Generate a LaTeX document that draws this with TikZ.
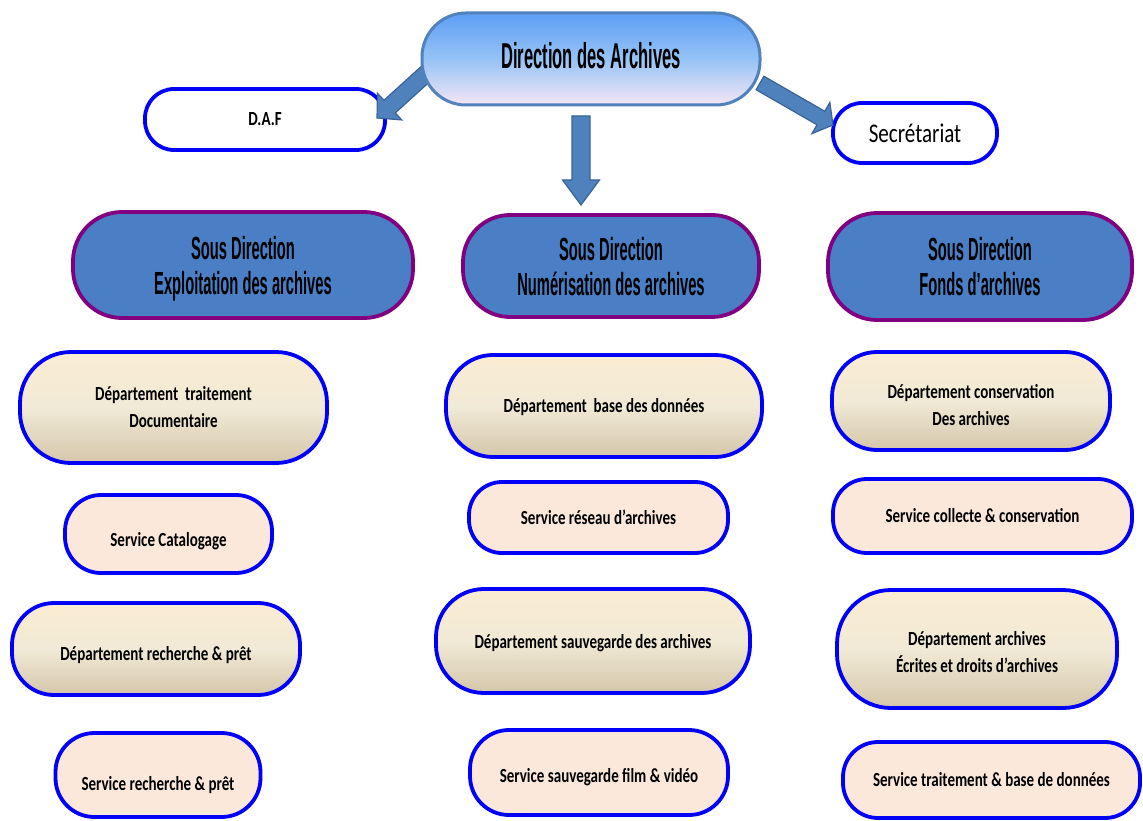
\documentclass[tikz,border=0pt]{standalone}
\usepackage{fontspec}
\usetikzlibrary{calc}
\newfontfamily\headfont[FakeStretch=0.46]{Liberation Sans}
\newfontfamily\bodyfont[FakeStretch=0.75]{Carlito}
\newfontfamily\plainfont[FakeStretch=0.78]{Carlito}

\definecolor{topedge}{RGB}{82,130,190}
\definecolor{toptop}{RGB}{92,158,245}
\definecolor{topmid}{RGB}{150,195,245}
\definecolor{topbot}{RGB}{244,230,246}
\definecolor{subfill}{RGB}{74,126,197}
\definecolor{subedge}{RGB}{128,0,128}
\definecolor{edgeblue}{RGB}{0,0,250}
\definecolor{depttop}{RGB}{251,236,211}
\definecolor{deptmid}{RGB}{241,234,214}
\definecolor{deptbot}{RGB}{212,198,170}
\definecolor{servfill}{RGB}{252,232,218}
\definecolor{arrowfill}{RGB}{79,129,189}
\definecolor{arrowedge}{RGB}{58,100,152}

\tikzset{
  orgbox/.style={draw, align=center, inner sep=0pt, line width=3.8pt},
  topbox/.style={orgbox, draw=topedge, line width=3pt, rounded corners=44pt,
    top color=toptop, bottom color=topbot, middle color=topmid,
    font=\headfont\bfseries\fontsize{36}{40}\selectfont},
  subbox/.style={orgbox, draw=subedge, fill=subfill, rounded corners=49pt,
    font=\headfont\bfseries\fontsize{32}{35}\selectfont},
  plainbox/.style={orgbox, draw=edgeblue, fill=white, rounded corners=29pt},
  deptbox/.style={orgbox, draw=edgeblue,
    top color=depttop, bottom color=deptbot, middle color=deptmid,
    font=\bodyfont\bfseries\fontsize{20}{27}\selectfont},
  servbox/.style={orgbox, draw=edgeblue, fill=servfill,
    font=\bodyfont\bfseries\fontsize{20}{27}\selectfont},
  arrowstyle/.style={fill=arrowfill, draw=arrowedge, line width=1.2pt, line join=miter}
}

% text lowered inside its box while keeping the box size
\newcommand\lowtext[2]{\raisebox{-#1}[\height][\depth]{%
  \begin{tabular}{@{}c@{}}#2\end{tabular}}}

% block arrow: start, tip, half shaft width, half head width, head length
\newcommand\blockarrow[5]{%
  \coordinate (#1base) at ($(#2)!#5!(#1)$);
  \filldraw[arrowstyle] ($(#1)!#3!90:(#2)$) -- ($(#1base)!#3!90:(#2)$)
    -- ($(#1base)!#4!90:(#2)$) -- (#2) -- ($(#1base)!#4!-90:(#2)$)
    -- ($(#1base)!#3!-90:(#2)$) -- ($(#1)!#3!-90:(#2)$) -- cycle;}

\begin{document}
\begin{tikzpicture}[x=1pt,y=-1pt]
\useasboundingbox (0,0) rectangle (1143,821);
\fill[white] (0,0) rectangle (1143,821);

% second level
\node[plainbox, minimum width=240pt, minimum height=61pt,
  font=\bodyfont\bfseries\fontsize{20}{22}\selectfont] (daf) at (265,119.5)
  {\lowtext{2pt}{D.A.F}};
\node[plainbox, minimum width=164pt, minimum height=60pt,
  font=\plainfont\fontsize{27}{30}\selectfont] (sec) at (915,133) {Secrétariat};

% sub-directions
\node[subbox, minimum width=340pt, minimum height=106pt] (sd1) at (243,265)
  {\lowtext{5pt}{Sous Direction\\Exploitation des archives}};
\node[subbox, minimum width=296pt, minimum height=102pt, rounded corners=47pt] (sd2) at (611,266)
  {\lowtext{5pt}{Sous Direction\\Numérisation des archives}};
\node[subbox, minimum width=304pt, minimum height=107pt] (sd3) at (980,266.5)
  {\lowtext{4pt}{Sous Direction\\Fonds d’archives}};

% column 1
\node[deptbox, minimum width=307pt, minimum height=111pt, rounded corners=51pt] (d11) at (173.5,407.5)
  {\lowtext{1pt}{Département\ \ traitement\\Documentaire}};
\node[servbox, minimum width=207pt, minimum height=78pt, rounded corners=36pt] (s11) at (168.5,534)
  {\lowtext{7pt}{Service Catalogage}};
\node[deptbox, minimum width=288pt, minimum height=92pt, rounded corners=42pt] (d12) at (156,649)
  {\lowtext{6pt}{Département recherche \& prêt}};
\node[servbox, minimum width=205pt, minimum height=84pt, rounded corners=39pt] (s12) at (158,775)
  {\lowtext{10pt}{Service recherche \& prêt}};

% column 2
\node[deptbox, minimum width=316pt, minimum height=102pt, rounded corners=47pt] (d21) at (604,406)
  {\lowtext{1pt}{Département\ \ base des données}};
\node[servbox, minimum width=259pt, minimum height=71pt, rounded corners=33pt] (s21) at (598.5,517.5)
  {Service réseau d’archives};
\node[deptbox, minimum width=314pt, minimum height=104pt, rounded corners=48pt] (d22) at (593,641)
  {\lowtext{2pt}{Département sauvegarde des archives}};
\node[servbox, minimum width=258pt, minimum height=85pt, rounded corners=39pt] (s22) at (599,772.5)
  {\lowtext{5pt}{Service sauvegarde film \& vidéo}};

% column 3
\node[deptbox, minimum width=278pt, minimum height=98pt, rounded corners=45pt] (d31) at (971,401)
  {\lowtext{6pt}{Département conservation\\Des archives}};
\node[servbox, minimum width=299pt, minimum height=74pt, rounded corners=34pt] (s31) at (982.5,516)
  {\lowtext{1pt}{Service collecte \& conservation}};
\node[deptbox, minimum width=280pt, minimum height=118pt, rounded corners=54pt] (d32) at (977,649)
  {\lowtext{5pt}{Département archives\\Écrites et droits d’archives}};
\node[servbox, minimum width=297pt, minimum height=76pt, rounded corners=35pt] (s32) at (991.5,780)
  {\lowtext{1pt}{Service traitement \& base de données}};

% arrows from the direction
\coordinate (dafS) at (430,70);
\coordinate (dafT) at (377,118);
\coordinate (sdS) at (581,116);
\coordinate (sdT) at (581,205);
\coordinate (secS) at (760,83);
\coordinate (secT) at (833,125);
\blockarrow{dafS}{dafT}{8.5pt}{18pt}{17pt}
\blockarrow{sdS}{sdT}{9pt}{18.5pt}{25pt}
\blockarrow{secS}{secT}{7.8pt}{18pt}{14pt}

% top
\node[topbox, minimum width=338pt, minimum height=92pt] (dir) at (591,59)
  {\lowtext{2pt}{Direction des Archives}};
\end{tikzpicture}
\end{document}
